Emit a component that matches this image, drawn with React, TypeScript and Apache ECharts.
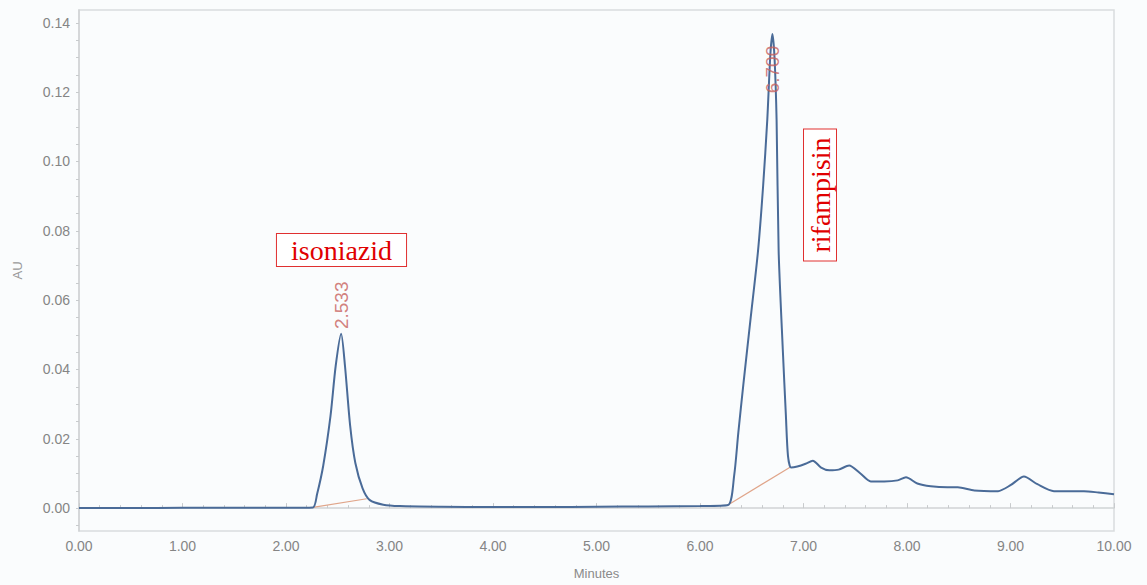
import React, { useEffect, useRef } from "react";
import * as echarts from "echarts";

const times = [0, 0.5, 1.0, 1.5, 2.0, 2.26, 2.30, 2.36, 2.43, 2.48, 2.533, 2.57, 2.62, 2.67, 2.74, 2.81, 2.94, 3.1, 3.5, 4.0, 4.5, 5.0, 5.5, 6.0, 6.27, 6.33, 6.37, 6.42, 6.49, 6.56, 6.61, 6.65, 6.68, 6.70, 6.72, 6.74, 6.76, 6.80, 6.83, 6.85, 6.88, 6.94, 7.02, 7.09, 7.17, 7.25, 7.34, 7.44, 7.55, 7.65, 7.78, 7.91, 7.99, 8.10, 8.23, 8.39, 8.49, 8.65, 8.88, 9.00, 9.13, 9.26, 9.42, 9.71, 9.85, 10.0];
const absorbance = [0.0, 0.0, 0.0001, 0.0001, 0.0001, 0.0002, 0.004, 0.0123, 0.0266, 0.041, 0.0503, 0.041, 0.0237, 0.013, 0.0057, 0.0023, 0.001, 0.0006, 0.0004, 0.0003, 0.0003, 0.0004, 0.0005, 0.0006, 0.0009, 0.0094, 0.0217, 0.036, 0.055, 0.074, 0.093, 0.112, 0.131, 0.1368, 0.13, 0.112, 0.074, 0.0457, 0.0266, 0.0151, 0.0117, 0.012, 0.0128, 0.0137, 0.0117, 0.0109, 0.0111, 0.0123, 0.01, 0.0077, 0.0077, 0.008, 0.0089, 0.0071, 0.0063, 0.006, 0.006, 0.0051, 0.0049, 0.0066, 0.0091, 0.0069, 0.0049, 0.0049, 0.0045, 0.004];

const baselineIsoniazid = [[2.26, 0.0002], [2.78, 0.0027]];
const baselineRifampicin = [[6.27, 0.0009], [6.87, 0.0118]];

const peakLabelTimes = [2.533, 6.70];
const peakLabelValues = [0.0505, 0.1185];
const peakLabelTexts = ["2.533", "6.700"];

const yLabelValues = [0, 0.02, 0.04, 0.06, 0.08, 0.1, 0.12, 0.14];
const yTickValues = [-0.005, 0, 0.005, 0.01, 0.015, 0.02, 0.025, 0.03, 0.035, 0.04, 0.045, 0.05, 0.055, 0.06, 0.065, 0.07, 0.075, 0.08, 0.085, 0.09, 0.095, 0.1, 0.105, 0.11, 0.115, 0.12, 0.125, 0.13, 0.135, 0.14];

export default function App() {
  const ref = useRef<HTMLDivElement>(null);
  useEffect(() => {
    if (!ref.current) return;
    const chart = echarts.init(ref.current, undefined, { renderer: "svg" });
    const data = times.map((t, i) => [t, absorbance[i]]);
    const labelData = peakLabelTimes.map((t, i) => ({
      value: [t, peakLabelValues[i]],
      label: { formatter: peakLabelTexts[i] },
    }));
    chart.setOption({
      animation: false,
      backgroundColor: "#fafcfd",
      grid: {
        left: 79,
        top: 10,
        right: 33,
        bottom: 49,
        show: true,
        borderColor: "#d9dcde",
        borderWidth: 1.5,
        backgroundColor: "transparent",
      },
      xAxis: {
        type: "value",
        min: 0,
        max: 10,
        interval: 1,
        name: "Minutes",
        nameLocation: "middle",
        nameGap: 36,
        nameTextStyle: { color: "#8a8a8a", fontSize: 13, fontFamily: "Liberation Sans, Arial" },
        axisLine: { show: true, lineStyle: { color: "#d0d3d5", width: 1.5 } },
        axisTick: { show: true, inside: true, length: 5, lineStyle: { color: "#c8cbcd" } },
        minorTick: { show: true, splitNumber: 5, length: 3, lineStyle: { color: "#c8cbcd" } },
        splitLine: { show: false },
        axisLabel: {
          color: "#858585",
          fontSize: 14,
          margin: 8,
          fontFamily: "Liberation Sans, Arial",
          formatter: (v: number) => v.toFixed(2),
        },
      },
      yAxis: {
        type: "value",
        min: -0.0066,
        max: 0.1437,
        name: "AU",
        nameLocation: "middle",
        nameGap: 55,
        nameTextStyle: { color: "#999", fontSize: 13, fontFamily: "Liberation Sans, Arial" },
        axisLine: { show: true, lineStyle: { color: "#d0d3d5", width: 1.5 } },
        axisTick: { show: true, length: 3, customValues: yTickValues, lineStyle: { color: "#c8cbcd" } },
        splitLine: { show: false },
        axisLabel: {
          color: "#858585",
          fontSize: 14,
          margin: 9,
          fontFamily: "Liberation Sans, Arial",
          customValues: yLabelValues,
          formatter: (v: number) => v.toFixed(2),
        },
      },
      series: [
        {
          type: "line",
          name: "baseline1",
          data: baselineIsoniazid,
          symbol: "none",
          lineStyle: { color: "#e0a58a", width: 1.2 },
          z: 1,
        },
        {
          type: "line",
          name: "baseline2",
          data: baselineRifampicin,
          symbol: "none",
          lineStyle: { color: "#e0a58a", width: 1.2 },
          z: 1,
        },
        {
          type: "line",
          name: "chromatogram",
          data,
          symbol: "none",
          smooth: 0.25,
          lineStyle: { color: "#4a6b98", width: 2 },
          z: 2,
        },
        {
          type: "scatter",
          name: "peaks",
          data: labelData,
          symbolSize: 0,
          z: 3,
          label: {
            show: true,
            position: "top",
            distance: 4,
            rotate: 90,
            align: "left",
            verticalAlign: "middle",
            color: "#c8605c",
            fontSize: 19,
            fontFamily: "Liberation Sans, Arial",
          },
        },
      ],
      graphic: [
        {
          type: "text",
          x: 341.5,
          y: 250,
          style: {
            text: "isoniazid",
            font: "28px 'Liberation Serif', 'Times New Roman', serif",
            fill: "#e00000",
            align: "center",
            verticalAlign: "middle",
            backgroundColor: "#ffffff",
            borderColor: "#e03030",
            borderWidth: 1,
            padding: [2, 14, 2, 14],
          },
          z: 10,
        },
        {
          type: "text",
          x: 820,
          y: 195,
          rotation: Math.PI / 2,
          style: {
            text: "rifampisin",
            font: "28px 'Liberation Serif', 'Times New Roman', serif",
            fill: "#e00000",
            align: "center",
            verticalAlign: "middle",
            backgroundColor: "#ffffff",
            borderColor: "#e03030",
            borderWidth: 1,
            padding: [2, 8, 2, 8],
          },
          z: 10,
        },
      ],
    });
    return () => chart.dispose();
  }, []);
  return (
    <div
      ref={ref}
      style={{ position: "fixed", left: 0, top: 0, width: 1147, height: 585 }}
    />
  );
}
